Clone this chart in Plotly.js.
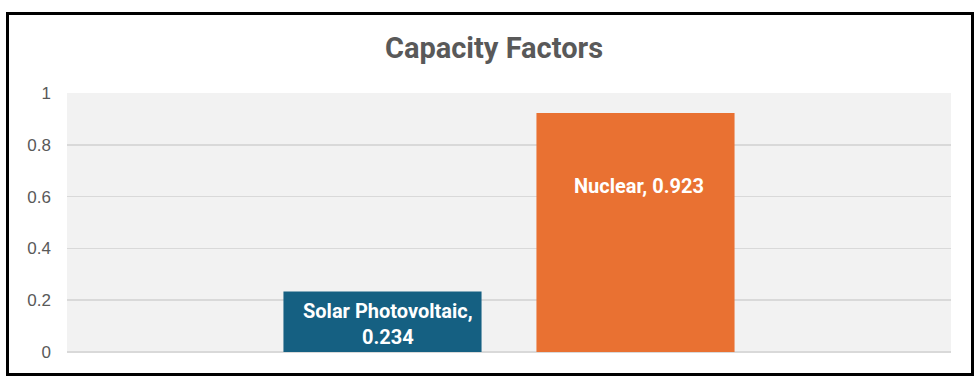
<!DOCTYPE html>
<html>
<head>
<meta charset="utf-8">
<script src="https://cdn.plot.ly/plotly-3.0.1.min.js"></script>
<style>
  html, body { margin: 0; padding: 0; background: #ffffff; }
  #wrap { position: relative; width: 979px; height: 379px; }
  #chart { position: absolute; left: 0; top: 0; width: 979px; height: 379px; }
  #frame { position: absolute; left: 6px; top: 12px; width: 968px; height: 364px;
           box-sizing: border-box; border: 3.5px solid #000; pointer-events: none; }
</style>
</head>
<body>
<div id="wrap">
  <div id="chart"></div>
  <div id="frame"></div>
</div>
<script>
// ---- data ----
const category = ["Capacity Factor"];
const seriesNames = ["Solar Photovoltaic", "Nuclear"];
const seriesValues = [0.234, 0.923];
const seriesColors = ["#156082", "#E97132"];
const labelTexts = ["Solar Photovoltaic,<br>0.234", "Nuclear, 0.923"];
const tickVals = [0, 0.2, 0.4, 0.6, 0.8, 1];
const tickText = ["0", "0.2", "0.4", "0.6", "0.8", "1"];

// label vertical placement (fraction of bar height) and horizontal offset (px)
const labelFrac = [0.5, 0.7];
const labelShift = [-121, 130];

const traces = seriesNames.map((name, i) => ({
  type: "bar",
  name: name,
  x: category,
  y: [seriesValues[i]],
  marker: { color: seriesColors[i] },
  hoverinfo: "skip"
}));

const annotations = seriesNames.map((name, i) => ({
  x: category[0],
  y: seriesValues[i] * labelFrac[i],
  xref: "x", yref: "y",
  xshift: labelShift[i],
  yshift: i === 0 ? -2 : -1,
  text: labelTexts[i],
  showarrow: false,
  align: "center",
  font: { family: "Roboto, 'Noto Sans', sans-serif", size: 20, color: "#ffffff", weight: "bold" }
}));

const layout = {
  width: 979, height: 379,
  margin: { l: 67, r: 28, t: 93, b: 27, pad: 0 },
  paper_bgcolor: "#ffffff",
  plot_bgcolor: "#f2f2f2",
  showlegend: false,
  barmode: "group",
  bargap: 0.4276,
  bargroupgap: 0.217,
  title: {
    text: "<b>Capacity Factors</b>",
    x: 494 / 979, xanchor: "center", xref: "container",
    y: 1 - 48 / 379, yanchor: "middle", yref: "container",
    font: { family: "Roboto, 'Noto Sans', sans-serif", size: 29, color: "#595959" }
  },
  xaxis: {
    type: "category",
    showticklabels: false,
    showgrid: false,
    zeroline: false,
    showline: false,
    ticks: "",
    fixedrange: true
  },
  yaxis: {
    range: [0, 1],
    tickvals: tickVals,
    ticktext: tickText,
    showgrid: true,
    gridcolor: "#d9d9d9",
    gridwidth: 1.5,
    zeroline: true,
    zerolinecolor: "#d9d9d9",
    zerolinewidth: 1.5,
    showline: false,
    ticks: "",
    ticklabelstandoff: 15,
    tickfont: { family: "'Liberation Sans', Arial, sans-serif", size: 17, color: "#595959" },
    fixedrange: true
  },
  annotations: annotations
};

Plotly.newPlot("chart", traces, layout, { displayModeBar: false, staticPlot: true });
</script>
</body>
</html>
